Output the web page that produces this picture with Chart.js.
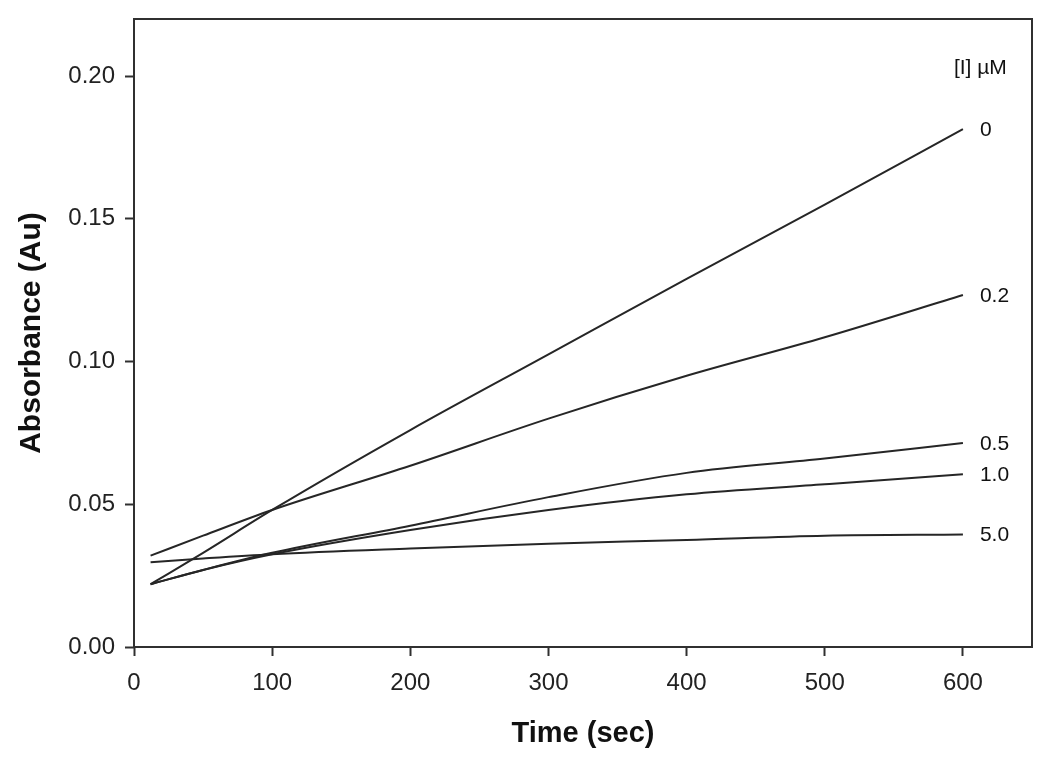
<!DOCTYPE html>
<html>
<head>
<meta charset="utf-8">
<title>Absorbance vs Time</title>
<script src="https://cdn.jsdelivr.net/npm/chart.js@4.4.1/dist/chart.umd.min.js"></script>
<style>
    html, body { margin: 0; padding: 0; background: #fff; }
    #contenedor { width: 1050px; height: 759px; }
</style>
</head>
<body>
<div id="contenedor"><canvas id="grafica"></canvas></div>
<script>
'use strict'
//Datos

//Tiempos (sec) comunes a todas las curvas
const tiempos = [12, 50, 100, 200, 300, 400, 500, 600];
//Absorbancia para cada concentración de inhibidor
const abs_0   = [0.022, 0.033, 0.048, 0.076, 0.1025, 0.129, 0.155, 0.1814];
const abs_0_2 = [0.032, 0.039, 0.048, 0.0635, 0.080, 0.095, 0.1085, 0.1233];
const abs_0_5 = [0.022, 0.027, 0.033, 0.0425, 0.0525, 0.061, 0.066, 0.0715];
const abs_1_0 = [0.022, 0.027, 0.0325, 0.041, 0.048, 0.0535, 0.057, 0.0605];
const abs_5_0 = [0.0297, 0.031, 0.0325, 0.0345, 0.0362, 0.0375, 0.039, 0.0394];

//Etiquetas de las curvas y encabezado
const etiquetas = ['0', '0.2', '0.5', '1.0', '5.0'];
const encabezado = '[I] µM';
const series = [abs_0, abs_0_2, abs_0_5, abs_1_0, abs_5_0];

//Ticks de los ejes
const ticksX = [0, 100, 200, 300, 400, 500, 600];
const ticksY = [0, 0.05, 0.10, 0.15, 0.20];

const fuente = '"Liberation Sans", Arial, Helvetica, sans-serif';
const colorLinea = '#262626';

const ctx = document.getElementById('grafica').getContext('2d');

//Caja alrededor del área de la gráfica
const marco = {
    id: 'marco',
    afterDraw(chart) {
        const a = chart.chartArea;
        const c = chart.ctx;
        c.save();
        c.strokeStyle = '#303030';
        c.lineWidth = 2;
        c.strokeRect(a.left, a.top, a.right - a.left, a.bottom - a.top);
        c.restore();
    }
};

//Texto al final de cada curva
const rotulos = {
    id: 'rotulos',
    afterDatasetsDraw(chart) {
        const c = chart.ctx;
        const x = chart.scales.x;
        const y = chart.scales.y;
        c.save();
        c.fillStyle = '#111';
        c.font = '21px ' + fuente;
        c.textBaseline = 'middle';
        c.textAlign = 'left';
        chart.data.datasets.forEach((ds, i) => {
            const meta = chart.getDatasetMeta(i);
            const ultimo = meta.data[meta.data.length - 1];
            c.fillText(ds.label, ultimo.x + 17, ultimo.y + 1);
        });
        c.fillText(encabezado, x.getPixelForValue(600) - 9, y.getPixelForValue(0.2026));
        c.restore();
    }
};

function filtrarTicks(lista) {
    return function(scale) {
        scale.ticks = lista.map(v => ({ value: v }));
    };
}

const datasets = series.map((valores, i) => ({
    label: etiquetas[i],
    data: tiempos.map((t, j) => ({ x: t, y: valores[j] })),
    borderColor: colorLinea,
    borderWidth: 2,
    pointRadius: 0,
    fill: false,
    cubicInterpolationMode: 'monotone'
}));

const grafica = new Chart(ctx, {
    type: 'line',
    data: { datasets: datasets },
    plugins: [marco, rotulos],
    options: {
        animation: false,
        responsive: true,
        maintainAspectRatio: false,
        layout: {
            padding: { top: 19, right: 18, left: 0, bottom: 0 }
        },
        plugins: {
            legend: { display: false },
            tooltip: { enabled: false },
            title: { display: false }
        },
        scales: {
            x: {
                type: 'linear',
                min: 0,
                max: 650,
                afterBuildTicks: filtrarTicks(ticksX),
                afterFit(scale) {
                    scale.height = 112;
                    scale.paddingLeft = 0;
                    scale.paddingRight = 0;
                },
                grid: {
                    drawOnChartArea: false,
                    drawTicks: true,
                    tickLength: 9,
                    tickWidth: 2,
                    tickColor: '#303030'
                },
                border: { display: false },
                ticks: {
                    padding: 13,
                    color: '#222',
                    font: { family: fuente, size: 24 },
                    maxRotation: 0,
                    callback: v => String(v)
                },
                title: {
                    display: true,
                    text: 'Time (sec)',
                    color: '#111',
                    font: { family: fuente, size: 29, weight: 'bold' },
                    padding: { top: 0, bottom: 8 }
                }
            },
            y: {
                type: 'linear',
                min: 0,
                max: 0.22,
                afterBuildTicks: filtrarTicks(ticksY),
                afterFit(scale) {
                    scale.width = 134;
                    scale.paddingTop = 0;
                    scale.paddingBottom = 0;
                },
                grid: {
                    drawOnChartArea: false,
                    drawTicks: true,
                    tickLength: 9,
                    tickWidth: 2,
                    tickColor: '#303030'
                },
                border: { display: false },
                ticks: {
                    padding: 10,
                    color: '#222',
                    font: { family: fuente, size: 24 },
                    callback: v => v.toFixed(2)
                },
                title: {
                    display: true,
                    text: 'Absorbance (Au)',
                    color: '#111',
                    font: { family: fuente, size: 30, weight: 'bold' },
                    padding: { top: 14, bottom: 0 }
                }
            }
        }
    }
});
</script>
</body>
</html>
